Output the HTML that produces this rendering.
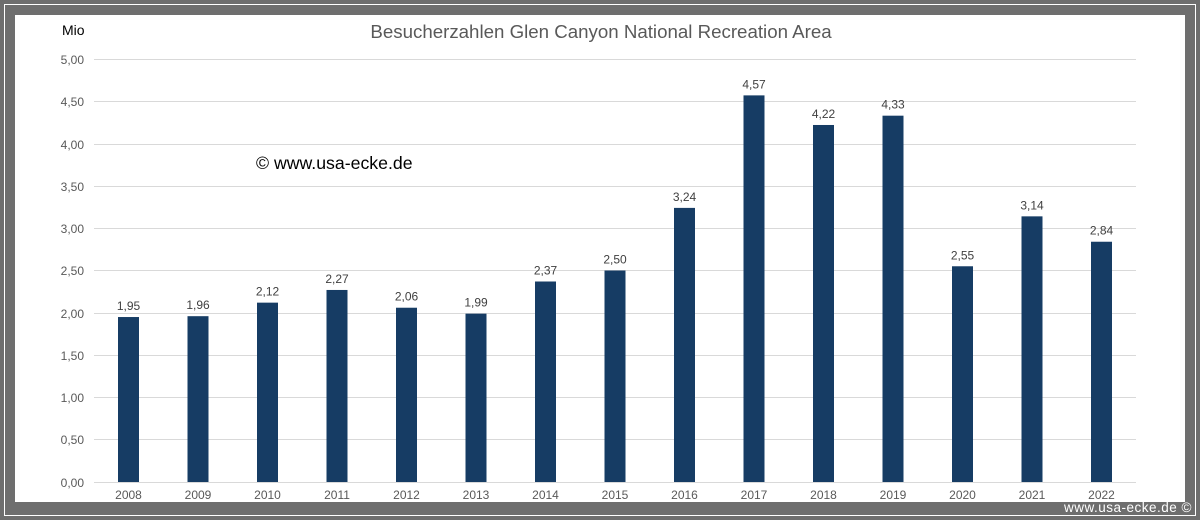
<!DOCTYPE html>
<html><head><meta charset="utf-8"><style>
html,body{margin:0;padding:0;}
body{width:1200px;height:520px;background:#6e6e6e;position:relative;overflow:hidden;font-family:"Liberation Sans",Arial,sans-serif;}
.wl{position:absolute;left:4px;top:4px;width:1190px;height:510px;border:1px solid #fff;}
.in{position:absolute;left:15px;top:15px;width:1170px;height:487px;background:#fff;}
.foot{position:absolute;right:8px;top:500px;font-size:13.5px;color:#fff;letter-spacing:0.5px;}
</style></head><body>
<div class="wl"></div>
<div class="in"></div>
<svg width="1200" height="520" style="position:absolute;left:0;top:0" font-family="Liberation Sans, Arial, sans-serif">
<text x="601" y="38" font-size="18.7" fill="#595959" text-anchor="middle">Besucherzahlen Glen Canyon National Recreation Area</text>
<text x="62" y="35" font-size="14" fill="#000">Mio</text>
<text x="256" y="169" font-size="17.7" fill="#000">© www.usa-ecke.de</text>
<g stroke="#d9d9d9" stroke-width="1">
<line x1="94" x2="1136" y1="59.5" y2="59.5"/><line x1="94" x2="1136" y1="101.5" y2="101.5"/>
<line x1="94" x2="1136" y1="144.5" y2="144.5"/><line x1="94" x2="1136" y1="186.5" y2="186.5"/>
<line x1="94" x2="1136" y1="228.5" y2="228.5"/><line x1="94" x2="1136" y1="270.5" y2="270.5"/>
<line x1="94" x2="1136" y1="313.5" y2="313.5"/><line x1="94" x2="1136" y1="355.5" y2="355.5"/>
<line x1="94" x2="1136" y1="397.5" y2="397.5"/><line x1="94" x2="1136" y1="439.5" y2="439.5"/>
<line x1="94" x2="1136" y1="482.5" y2="482.5"/>
</g>
<g font-size="12" fill="#595959" text-anchor="end">
<text x="84" y="64">5,00</text><text x="84" y="106">4,50</text><text x="84" y="149">4,00</text>
<text x="84" y="191">3,50</text><text x="84" y="233">3,00</text><text x="84" y="275">2,50</text>
<text x="84" y="318">2,00</text><text x="84" y="360">1,50</text><text x="84" y="402">1,00</text>
<text x="84" y="444">0,50</text><text x="84" y="487">0,00</text>
</g>
<g id="bars"></g>
</svg>
<div class="foot">www.usa-ecke.de ©</div>
<script>
var v=[1.95,1.96,2.12,2.27,2.06,1.99,2.37,2.50,3.24,4.57,4.22,4.33,2.55,3.14,2.84];
var g=document.getElementById('bars'),s='';
for(var i=0;i<v.length;i++){var c=128.5+i*69.5,h=v[i]*84.6,y=482-h;
s+='<rect x="'+(c-10.5)+'" y="'+y+'" width="21" height="'+h+'" fill="#163c64"/>';
s+='<text x="'+c+'" y="'+(y-7)+'" font-size="12" fill="#404040" text-anchor="middle">'+v[i].toFixed(2).replace('.',',')+'</text>';
s+='<text x="'+c+'" y="499" font-size="12" fill="#595959" text-anchor="middle">'+(2008+i)+'</text>';}
g.innerHTML=s;
</script>
</body></html>
